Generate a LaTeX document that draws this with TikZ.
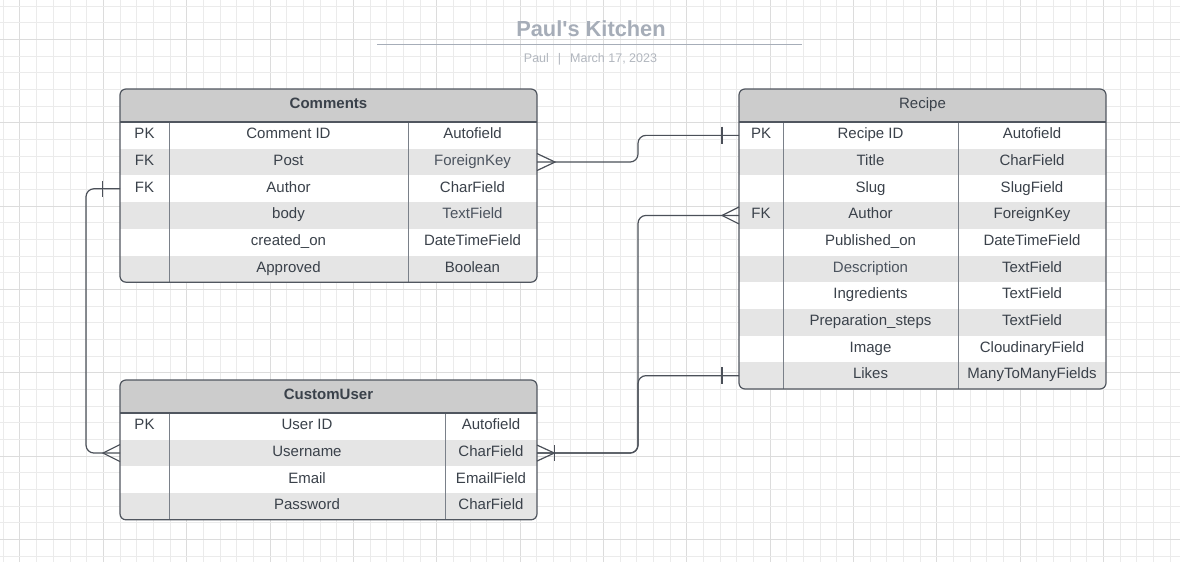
\documentclass[tikz,border=0pt]{standalone}
\usepackage{fontspec}
\setmainfont{Liberation Sans}
\definecolor{gridmin}{HTML}{EBEBEB}
\definecolor{gridmaj}{HTML}{DCDCDC}
\definecolor{hdrgray}{HTML}{CCCCCC}
\definecolor{rowgray}{HTML}{E5E5E5}
\definecolor{bord}{HTML}{50565F}
\definecolor{colc}{HTML}{7A8089}
\definecolor{txt}{HTML}{3A414A}
\definecolor{txtl}{HTML}{4C545F}
\definecolor{connc}{HTML}{4B5059}
\definecolor{titlec}{HTML}{A6ADB8}
\definecolor{subc}{HTML}{B2B7BF}
\newcommand{\cellfont}{\fontsize{15}{18}\selectfont}
\newcommand{\erdtable}[9]{%
  \pgfmathsetmacro\tyb{#6+33+#8*26.7}
  \begin{scope}
    \clip[rounded corners=6pt] (#2,#6) rectangle (#5,\tyb);
    \node[rowbox, fill=hdrgray, minimum width={#5-#2}, minimum height=33] (#1-h) at (#2,#6) {};
    \foreach \k/\f/\t [count=\i] in {#9} {
      \pgfmathsetmacro\ry{#6+33+(\i-1)*26.7}
      \ifodd\i\relax\def\rf{white}\else\def\rf{rowgray}\fi
      \node[rowbox, fill=\rf, minimum width={#5-#2}, minimum height=26.7] (#1-\i) at (#2,\ry) {};
      \node[cell] (#1-\i-k) at ({(#2+#3)/2},{\ry+16.6}) {\k};
      \node[cell] (#1-\i-f) at ({(#3+#4)/2},{\ry+16.6}) {\f};
      \node[cell] (#1-\i-t) at ({(#4+#5)/2},{\ry+16.6}) {\t};
    }
  \end{scope}
  \node[cell] (#1-ht) at ({(#2+#5)/2},{#6+19.5}) {#7};
  \draw[colline] (#3,#6+33) -- (#3,\tyb);
  \draw[colline] (#4,#6+33) -- (#4,\tyb);
  \draw[tborder] (#2,#6+33) -- (#5,#6+33);
  \draw[tborder, rounded corners=6pt] (#2,#6) rectangle (#5,\tyb);
}
\begin{document}
\begin{tikzpicture}[x=1pt,y=-1pt,
  gridminor/.style={draw=gridmin, line width=0.8pt},
  gridmajor/.style={draw=gridmaj, line width=1pt},
  rowbox/.style={draw=none, inner sep=0pt, outer sep=0pt, anchor=north west},
  cell/.style={inner sep=0pt, outer sep=0pt, anchor=base, text=txt, font=\cellfont},
  conn/.style={draw=connc, line width=1.2pt},
  tborder/.style={draw=bord, line width=1.2pt},
  colline/.style={draw=colc, line width=1pt}]
\useasboundingbox (0,0) rectangle (1180,562);
\fill[white] (0,0) rectangle (1180,562);
% grid
\foreach \k in {0,...,70} {
  \pgfmathsetmacro\gx{3.33+16.667*\k}
  \pgfmathtruncatemacro\gm{mod(\k,5)}
  \ifnum\gm=1\relax \draw[gridmajor] (\gx,0) -- (\gx,562);
  \else \draw[gridminor] (\gx,0) -- (\gx,562); \fi
}
\foreach \k in {0,...,33} {
  \pgfmathsetmacro\gy{6.2+16.667*\k}
  \pgfmathtruncatemacro\gm{mod(\k,5)}
  \ifnum\gm=2\relax \draw[gridmajor] (0,\gy) -- (1180,\gy);
  \else \draw[gridminor] (0,\gy) -- (1180,\gy); \fi
}
% title
\node[font=\fontsize{21.8}{24}\selectfont\bfseries, text=titlec, anchor=base, inner sep=0pt] (title) at (591,36.7) {Paul\textquotesingle s Kitchen};
\draw[draw=titlec, line width=1.3pt] (377,44.5) -- (802,44.5);
\node[font=\fontsize{12.5}{14}\selectfont, text=subc, anchor=base, inner sep=0pt] (subtitle) at (590.5,62.3) {Paul\hspace{9pt}|\hspace{9pt}March 17, 2023};
% tables
\erdtable{com}{120}{169}{408}{537}{89}{\bfseries Comments}{6}{PK/Comment ID/Autofield, FK/Post/{\color{txtl}ForeignKey}, FK/Author/CharField, /body/{\color{txtl}TextField}, /created\_on/DateTimeField, /Approved/Boolean}
\erdtable{rec}{739}{783}{958}{1106}{89}{Recipe}{10}{PK/Recipe ID/Autofield, /Title/CharField, /Slug/SlugField, FK/Author/ForeignKey, /Published\_on/DateTimeField, /{\color{txtl}Description}/TextField, /Ingredients/TextField, /Preparation\_steps/TextField, /Image/CloudinaryField, /Likes/ManyToManyFields}
\erdtable{cu}{120}{169}{445}{537}{380}{\bfseries CustomUser}{4}{PK/User ID/Autofield, /Username/CharField, /Email/EmailField, /Password/CharField}
% connectors
% Comments.Post -> Recipe.ID
\draw[conn, rounded corners=8pt] (com-2.east) -- ++(101,0) |- (rec-1.west);
\draw[conn] ([yshift=8.5pt]com-2.east) -- ([xshift=18pt]com-2.east) -- ([yshift=-8.5pt]com-2.east);
\draw[conn] ([xshift=-17pt,yshift=8.7pt]rec-1.west) -- ([xshift=-17pt,yshift=-8.7pt]rec-1.west);
% Comments.Author -> CustomUser
\draw[conn, rounded corners=8pt] (com-3.west) -- ++(-34,0) |- (cu-2.west);
\draw[conn] ([xshift=-17.7pt,yshift=8pt]com-3.west) -- ([xshift=-17.7pt,yshift=-8pt]com-3.west);
\draw[conn] ([yshift=8.5pt]cu-2.west) -- ([xshift=-17pt]cu-2.west) -- ([yshift=-8.5pt]cu-2.west);
% Recipe.Author -> CustomUser
\draw[conn, rounded corners=8pt] (rec-4.west) -- ++(-101,0) |- (cu-2.east);
\draw[conn] ([yshift=8.5pt]rec-4.west) -- ([xshift=-17pt]rec-4.west) -- ([yshift=-8.5pt]rec-4.west);
\draw[conn] ([xshift=17.3pt,yshift=8pt]cu-2.east) -- ([xshift=17.3pt,yshift=-8pt]cu-2.east);
% Recipe.Likes -> CustomUser
\draw[conn, rounded corners=8pt] (rec-10.west) -- ++(-101,0) |- (cu-2.east);
\draw[conn] ([xshift=-17pt,yshift=8.5pt]rec-10.west) -- ([xshift=-17pt,yshift=-8.5pt]rec-10.west);
\draw[conn] ([yshift=8pt]cu-2.east) -- ([xshift=17.3pt]cu-2.east) -- ([yshift=-8pt]cu-2.east);
\end{tikzpicture}
\end{document}
